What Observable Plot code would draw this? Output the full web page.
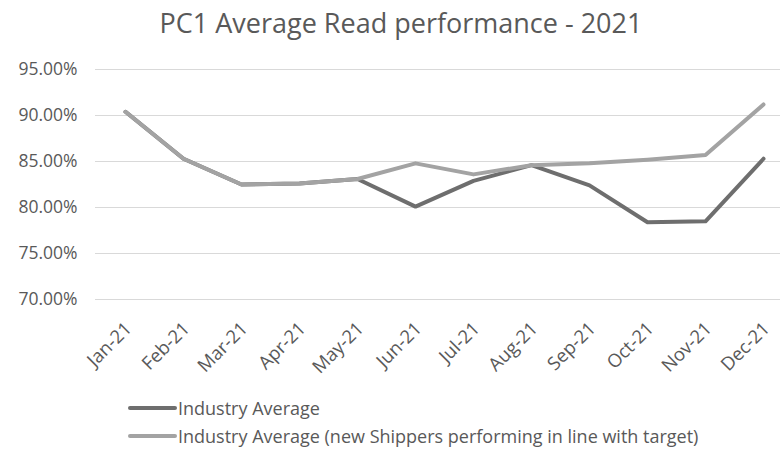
<!DOCTYPE html>
<html>
<head>
<meta charset="utf-8">
<script src="https://cdn.jsdelivr.net/npm/d3@7"></script>
<script src="https://cdn.jsdelivr.net/npm/@observablehq/plot@0.6"></script>
<style>
  body { margin: 0; background: #fff; font-family: "Open Sans", sans-serif; color: #595959; }
  #wrap { width: 782px; height: 457px; position: relative; overflow: hidden; }
  #title { height: 45px; line-height: 46px; text-align: center; font-size: 27px; padding-left: 20px; box-sizing: border-box; }
  #legend { position: absolute; left: 128px; top: 394px; font-size: 18px; }
  .row { display: flex; align-items: center; height: 28px; }
  .sw { width: 49px; height: 4px; border-radius: 2px; margin-right: 1px; }
</style>
</head>
<body>
<div id="wrap">
  <div id="title">PC1 Average Read performance - 2021</div>
  <div id="chart"></div>
  <div id="legend"></div>
</div>
<script>
const months = ["Jan-21","Feb-21","Mar-21","Apr-21","May-21","Jun-21","Jul-21","Aug-21","Sep-21","Oct-21","Nov-21","Dec-21"];
const industryAverage = [0.904, 0.853, 0.825, 0.826, 0.831, 0.801, 0.829, 0.846, 0.824, 0.784, 0.785, 0.853];
const newShippers = [0.904, 0.853, 0.825, 0.826, 0.831, 0.848, 0.836, 0.846, 0.848, 0.852, 0.857, 0.912];
const yTicks = [0.70, 0.75, 0.80, 0.85, 0.90, 0.95];
const seriesNames = ["Industry Average", "Industry Average (new Shippers performing in line with target)"];
const seriesColors = ["#6e6e6e", "#a3a3a3"];

const data = [];
months.forEach((m, i) => {
  data.push({month: m, value: industryAverage[i], series: seriesNames[0]});
});
months.forEach((m, i) => {
  data.push({month: m, value: newShippers[i], series: seriesNames[1]});
});

const chart = Plot.plot({
  width: 782,
  height: 320,
  marginTop: 24,
  marginBottom: 66,
  marginLeft: 95,
  marginRight: 2,
  style: {fontFamily: "'Open Sans', sans-serif", color: "#595959", background: "#fff", overflow: "visible"},
  x: {type: "point", domain: months, padding: 0, insetLeft: 30, insetRight: 17, label: null},
  y: {domain: [0.70, 0.95], ticks: yTicks, tickFormat: d3.format(".2%"), label: null, grid: false},
  color: {domain: seriesNames, range: seriesColors},
  marks: [
    Plot.gridY(yTicks, {stroke: "#d9d9d9", strokeOpacity: 1, strokeWidth: 1}),
    Plot.axisY({ticks: yTicks, tickFormat: d3.format(".2%"), tickSize: 0, tickPadding: 18, fontSize: 17.5, label: null, fill: "#595959"}),
    Plot.axisX({tickSize: 0, tickRotate: -45, tickPadding: 26, dx: 3, fontSize: 18.5, label: null, fill: "#595959"}),
    Plot.line(data, {x: "month", y: "value", z: "series", stroke: "series", strokeWidth: 4, strokeLinejoin: "round", strokeLinecap: "round"})
  ]
});
document.getElementById("chart").appendChild(chart);

const legend = document.getElementById("legend");
seriesNames.forEach((n, i) => {
  const r = document.createElement("div");
  r.className = "row";
  const s = document.createElement("div");
  s.className = "sw";
  s.style.background = seriesColors[i];
  const t = document.createElement("span");
  t.textContent = n;
  r.appendChild(s); r.appendChild(t);
  legend.appendChild(r);
});
</script>
</body>
</html>
